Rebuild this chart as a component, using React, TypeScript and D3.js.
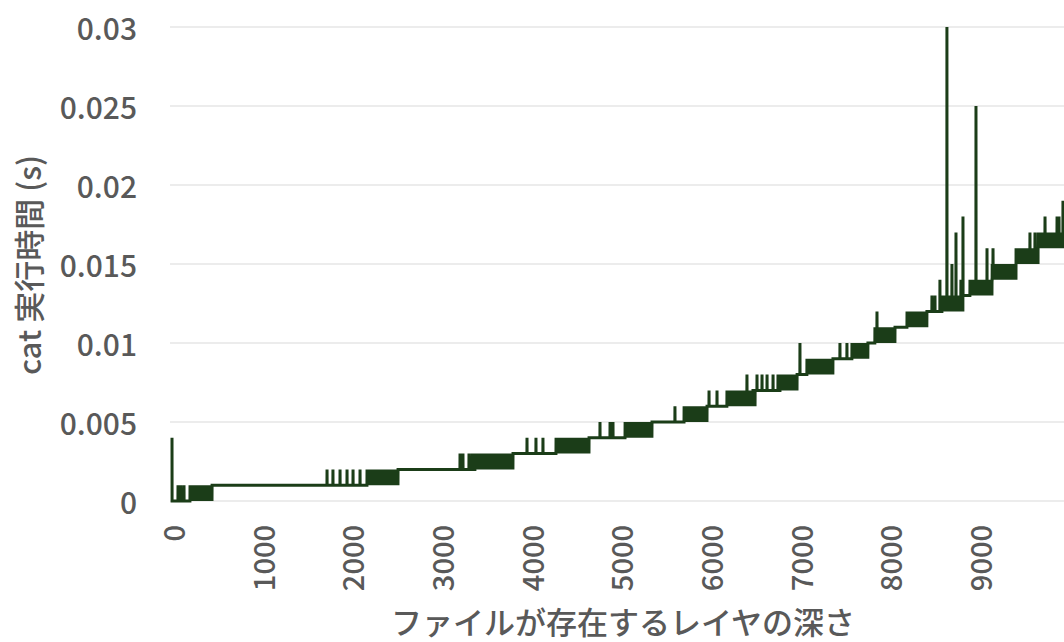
import React, { useMemo } from 'react';
import * as d3 from 'd3';

const WIDTH = 1064;
const HEIGHT = 642;

// Axis ticks
const depthTicks = [0, 1000, 2000, 3000, 4000, 5000, 6000, 7000, 8000, 9000];
const timeTicks = [0, 0.005, 0.01, 0.015, 0.02, 0.025, 0.03];
const timeTickLabels = ['0', '0.005', '0.01', '0.015', '0.02', '0.025', '0.03'];

// Depth ranges where the measured time keeps flipping between low and low + 1 ms
const bandStart = [201, 2175, 3379, 4282, 5052, 5710, 6189, 6780, 7081, 7583, 7839, 8196, 8587, 8899, 9145, 9412, 9658];
const bandEnd = [446, 2520, 3803, 4650, 5353, 5966, 6479, 6970, 7371, 7761, 8062, 8419, 8821, 9145, 9412, 9658, 10000];
const bandLowMs = [0, 1, 2, 3, 4, 5, 6, 7, 8, 9, 10, 11, 12, 13, 14, 15, 16];

// Isolated samples that stand apart from the surrounding level
const spikeDepth = [
  0, 67, 100, 134,
  1729, 1795, 1874, 1952, 2019, 2097,
  3212, 3245, 3312, 3346,
  3959, 4059, 4137,
  4773, 4885, 4918,
  5609,
  5989, 6078,
  6412, 6502, 6524, 6580, 6636, 6703, 6758,
  7003,
  7449, 7527,
  7862,
  8475, 8509, 8564,
  8642, 8698, 8743, 8798, 8821,
  8966, 9089, 9156,
  9568, 9624,
  9736, 9870, 9892, 9936,
];
const spikeMs = [
  4, 1, 1, 1,
  2, 2, 2, 2, 2, 2,
  3, 3, 3, 3,
  4, 4, 4,
  5, 5, 5,
  6,
  7, 7,
  8, 6, 8, 8, 8, 8, 8,
  10,
  10, 10,
  12,
  13, 13, 14,
  30, 15, 17, 14, 18,
  25, 16, 16,
  17, 17,
  18, 18, 18, 19,
];

const MAX_DEPTH = 10000;

type Sample = { depth: number; time: number };

function buildSeries(): Sample[] {
  const spikes = new Map<number, number>();
  spikeDepth.forEach((d, i) => spikes.set(d, spikeMs[i]));
  const out: Sample[] = [];
  let band = 0;
  let level = 0;
  for (let d = 0; d <= MAX_DEPTH; d++) {
    while (band < bandStart.length && d > bandEnd[band]) {
      level = bandLowMs[band] + 1;
      band++;
    }
    let ms = level;
    if (band < bandStart.length && d >= bandStart[band] && d <= bandEnd[band]) {
      ms = bandLowMs[band] + (d % 2);
    }
    if (spikes.has(d)) ms = spikes.get(d)!;
    out.push({ depth: d, time: ms / 1000 });
  }
  return out;
}

const FONT = '"Noto Sans CJK JP", "Noto Sans", sans-serif';
const TEXT = '#595959';
const GRID = '#d9d9d9';
const LINE = '#1b3d18';

export default function App() {
  const left = 170;
  const x = d3.scaleLinear().domain([0, MAX_DEPTH]).range([172, 172 + MAX_DEPTH * 0.08967]);
  const y = d3.scaleLinear().domain([0, 0.03]).range([501, 27]);

  const series = useMemo(buildSeries, []);
  const path = useMemo(
    () =>
      d3
        .line<Sample>()
        .x((s) => x(s.depth))
        .y((s) => y(s.time))(series) || '',
    [series]
  );

  return (
    <svg
      width={WIDTH}
      height={HEIGHT}
      style={{ position: 'absolute', left: 0, top: 0, background: '#fff' }}
      fontFamily={FONT}
    >
      <defs>
        <clipPath id="plot-clip">
          <rect x={left - 4} y={0} width={WIDTH - left + 4} height={510} />
        </clipPath>
      </defs>

      {timeTicks.map((t) => (
        <line key={t} x1={left} x2={WIDTH} y1={y(t)} y2={y(t)} stroke={GRID} strokeWidth={1} />
      ))}

      {timeTicks.map((t, i) => (
        <text
          key={t}
          x={137}
          y={y(t)}
          textAnchor="end"
          dominantBaseline="central"
          fontSize={30}
          fontWeight={500}
          fill={TEXT}
        >
          {timeTickLabels[i]}
        </text>
      ))}

      {depthTicks.map((d) => (
        <text
          key={d}
          transform={`translate(${x(d)},525) rotate(-90)`}
          textAnchor="end"
          dominantBaseline="central"
          fontSize={29}
          fontWeight={500}
          fill={TEXT}
        >
          {d}
        </text>
      ))}

      <g clipPath="url(#plot-clip)">
        <path d={path} fill="none" stroke={LINE} strokeWidth={3} strokeLinejoin="miter" />
      </g>

      <text
        transform="translate(27,265) rotate(-90)"
        textAnchor="middle"
        dominantBaseline="central"
        fontSize={31}
        fontWeight={500}
        fill={TEXT}
      >
        cat 実行時間 (s)
      </text>

      <text x={623} y={620} textAnchor="middle" dominantBaseline="central" fontSize={31} fontWeight={500} fill={TEXT}>
        ファイルが存在するレイヤの深さ
      </text>
    </svg>
  );
}
